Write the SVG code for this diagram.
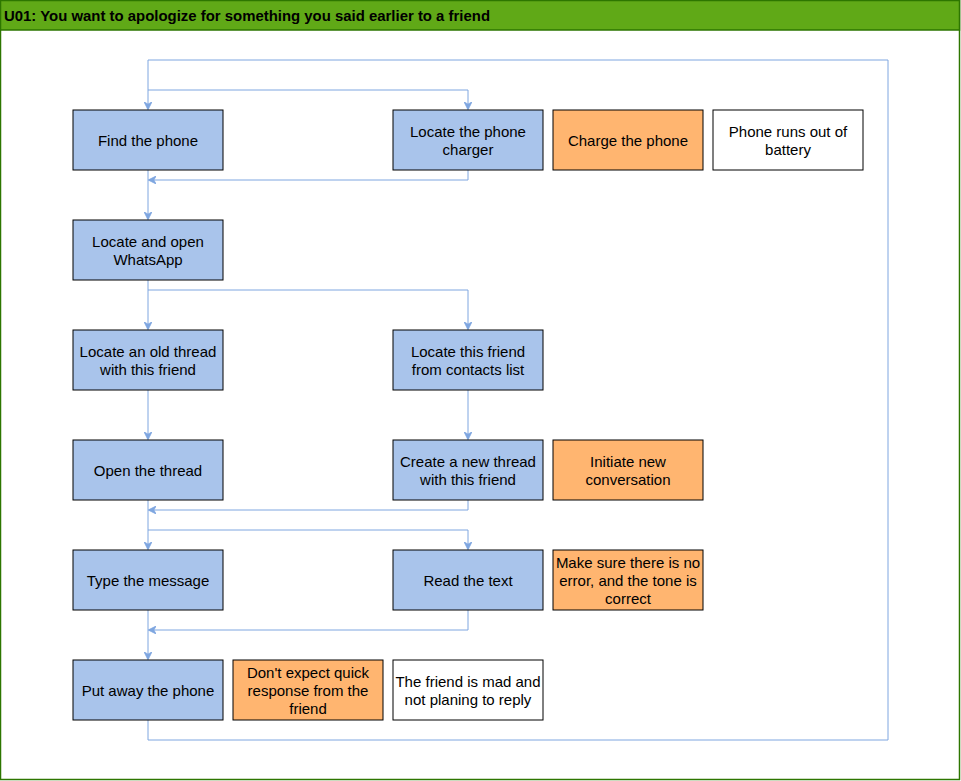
<svg xmlns="http://www.w3.org/2000/svg" width="961" height="781" viewBox="0 0 961 781">
<defs>
<style>
.n rect{stroke:#000;stroke-width:1}
.b rect{fill:#A9C4EB}
.o rect{fill:#FFB570}
.w rect{fill:#FFFFFF}
text{font-family:"Liberation Sans",Arial,Helvetica,sans-serif;font-size:15px;fill:#000;text-anchor:middle}
.t{font-weight:bold;text-anchor:start}
#connectors path{fill:none;stroke:#7EA6E0;stroke-width:1}
</style>
<marker id="ar" viewBox="0 0 10 10" refX="9" refY="5" markerWidth="8" markerHeight="8" orient="auto" markerUnits="userSpaceOnUse">
<path d="M0,0 L10,5 L0,10 L3,5 Z" fill="#7EA6E0" stroke="#7EA6E0"/>
</marker>
</defs>
<rect x="0" y="0" width="961" height="781" fill="#fff"/>
<g id="frame">
<rect x="0.5" y="0.5" width="959" height="779" fill="#fff" stroke="#2D7600" stroke-width="1.5"/>
<rect x="0.5" y="0.5" width="959" height="29.5" fill="#60A917" stroke="#2D7600" stroke-width="1.5"/>
<text class="t" x="4" y="21" textLength="486" lengthAdjust="spacingAndGlyphs">U01: You want to apologize for something you said earlier to a friend</text>
</g>
<g id="connectors">
<path d="M148,720 V740 H888 V60 H148 V109" marker-end="url(#ar)"/>
<path d="M148,90 H468 V109" marker-end="url(#ar)"/>
<path d="M468,170 V180 H149" marker-end="url(#ar)"/>
<path d="M148,170 V219" marker-end="url(#ar)"/>
<path d="M148,280 V329" marker-end="url(#ar)"/>
<path d="M148,290 H468 V329" marker-end="url(#ar)"/>
<path d="M148,390 V439" marker-end="url(#ar)"/>
<path d="M468,390 V439" marker-end="url(#ar)"/>
<path d="M468,500 V510 H149" marker-end="url(#ar)"/>
<path d="M148,500 V549" marker-end="url(#ar)"/>
<path d="M148,530 H468 V549" marker-end="url(#ar)"/>
<path d="M468,610 V630 H149" marker-end="url(#ar)"/>
<path d="M148,610 V659" marker-end="url(#ar)"/>
</g>
<g id="find" class="n b"><rect x="73" y="110" width="150" height="60"/><text x="148" y="146">Find the phone</text></g>
<g id="charger" class="n b"><rect x="393" y="110" width="150" height="60"/><text x="468" y="137">Locate the phone</text><text x="468" y="155">charger</text></g>
<g id="charge" class="n o"><rect x="553" y="110" width="150" height="60"/><text x="628" y="146">Charge the phone</text></g>
<g id="battery" class="n w"><rect x="713" y="110" width="150" height="60"/><text x="788" y="137">Phone runs out of</text><text x="788" y="155">battery</text></g>
<g id="whatsapp" class="n b"><rect x="73" y="220" width="150" height="60"/><text x="148" y="247">Locate and open</text><text x="148" y="265">WhatsApp</text></g>
<g id="oldthread" class="n b"><rect x="73" y="330" width="150" height="60"/><text x="148" y="357">Locate an old thread</text><text x="148" y="375">with this friend</text></g>
<g id="contacts" class="n b"><rect x="393" y="330" width="150" height="60"/><text x="468" y="357">Locate this friend</text><text x="468" y="375">from contacts list</text></g>
<g id="open" class="n b"><rect x="73" y="440" width="150" height="60"/><text x="148" y="476">Open the thread</text></g>
<g id="newthread" class="n b"><rect x="393" y="440" width="150" height="60"/><text x="468" y="467">Create a new thread</text><text x="468" y="485">with this friend</text></g>
<g id="initiate" class="n o"><rect x="553" y="440" width="150" height="60"/><text x="628" y="467">Initiate new</text><text x="628" y="485">conversation</text></g>
<g id="type" class="n b"><rect x="73" y="550" width="150" height="60"/><text x="148" y="586">Type the message</text></g>
<g id="read" class="n b"><rect x="393" y="550" width="150" height="60"/><text x="468" y="586">Read the text</text></g>
<g id="makesure" class="n o"><rect x="553" y="550" width="150" height="60"/><text x="628" y="568">Make sure there is no</text><text x="628" y="586">error, and the tone is</text><text x="628" y="604">correct</text></g>
<g id="putaway" class="n b"><rect x="73" y="660" width="150" height="60"/><text x="148" y="696">Put away the phone</text></g>
<g id="noexpect" class="n o"><rect x="233" y="660" width="150" height="60"/><text x="308" y="678">Don't expect quick</text><text x="308" y="696">response from the</text><text x="308" y="714">friend</text></g>
<g id="mad" class="n w"><rect x="393" y="660" width="150" height="60"/><text x="468" y="687">The friend is mad and</text><text x="468" y="705">not planing to reply</text></g>
</svg>
